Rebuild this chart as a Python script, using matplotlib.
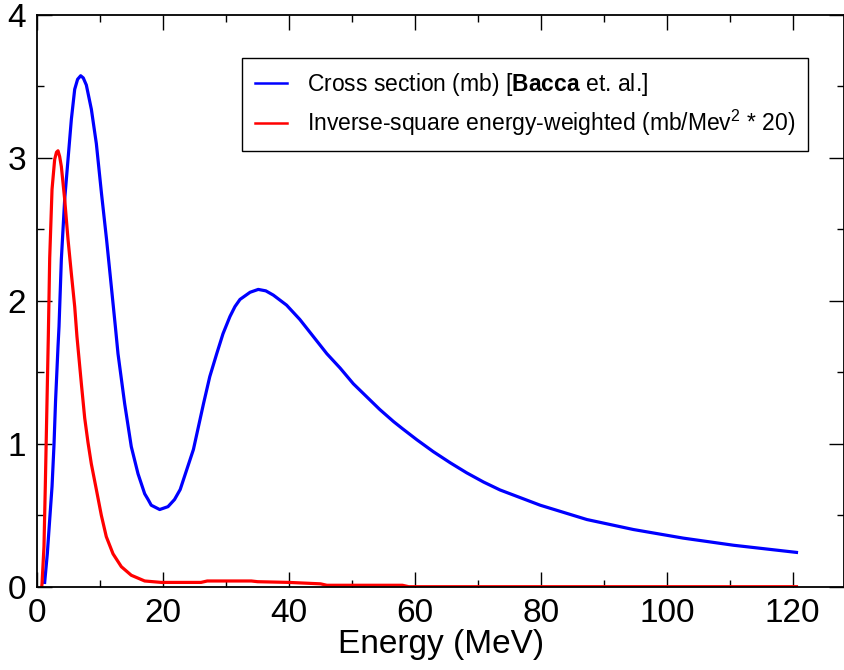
import matplotlib
matplotlib.use('Agg')

import matplotlib.pyplot as plt

plt.rcParams['font.family'] = ['Liberation Sans', 'DejaVu Sans']
plt.rcParams['mathtext.fontset'] = 'custom'
plt.rcParams['mathtext.rm'] = 'Liberation Sans'
plt.rcParams['mathtext.bf'] = 'Liberation Sans:bold'

# photoabsorption cross section (mb)
e_sigma = [1.17, 1.59, 1.97, 2.34, 2.65, 2.9, 3.29, 3.45, 3.82, 4.35, 4.88, 5.41, 5.94,
           6.4, 6.89, 7.3, 7.79, 8.59, 9.38, 10.2, 11.0, 11.76, 12.4, 12.82, 13.88,
           14.93, 16.0, 17.06, 17.6, 18.1, 19.44, 20.76, 21.8, 22.7, 23.9, 24.8, 26.4,
           27.4, 28.5, 29.5, 30.6, 31.4, 32.2, 33.8, 35.1, 36.3, 37.5, 39.6, 41.7,
           43.85, 46.0, 48.1, 50.2, 52.3, 54.4, 56.6, 58.0, 60.3, 62.9, 65.6, 68.2,
           70.9, 73.5, 79.9, 87.3, 94.7, 102.6, 110.6, 120.6]
sigma = [0.03, 0.23, 0.47, 0.70, 0.99, 1.30, 1.68, 1.82, 2.29, 2.71, 2.99, 3.27, 3.48,
         3.55, 3.575, 3.56, 3.51, 3.34, 3.10, 2.75, 2.43, 2.10, 1.82, 1.63, 1.28,
         0.98, 0.79, 0.65, 0.61, 0.57, 0.54, 0.56, 0.61, 0.68, 0.84, 0.96, 1.28,
         1.47, 1.63, 1.77, 1.89, 1.96, 2.01, 2.06, 2.08, 2.07, 2.04, 1.97, 1.87,
         1.75, 1.63, 1.53, 1.42, 1.33, 1.24, 1.155, 1.106, 1.028, 0.945, 0.867, 0.797,
         0.732, 0.677, 0.57, 0.47, 0.40, 0.34, 0.29, 0.24]

# sigma / E^2, scaled by 20
e_weighted = [0.70, 0.75, 1.06, 1.27, 1.43, 1.59, 1.75, 1.97, 2.34, 2.76, 3.05, 3.29,
              3.55, 3.82, 4.35, 4.88, 5.41, 5.94, 6.3, 7.0, 7.53, 8.05, 8.58, 9.38,
              10.17, 10.96, 12.03, 13.35, 14.93, 17.06, 19.7, 26.0, 27.0, 34.0, 35.0,
              40.0, 45.0, 46.0, 58.0, 59.0, 120.6]
weighted = [0.0, 0.02, 0.28, 0.70, 1.05, 1.40, 1.75, 2.30, 2.78, 2.99, 3.04, 3.05,
            3.01, 2.94, 2.71, 2.43, 2.19, 1.96, 1.75, 1.42, 1.18, 1.01, 0.86, 0.68,
            0.50, 0.35, 0.23, 0.14, 0.08, 0.04, 0.03, 0.03, 0.04, 0.04, 0.035,
            0.03, 0.02, 0.01, 0.01, 0.0, 0.0]

fig = plt.figure(figsize=(8.45, 6.70), dpi=100)
ax = fig.add_axes([37.3 / 845, 83.3 / 670, 806.7 / 845, 571.7 / 670])

ax.plot(e_sigma, sigma, color='#0000ff', lw=2.3,
        label=r'Cross section (mb) [$\mathbf{Bacca}$ et. al.]')
ax.plot(e_weighted, weighted, color='#ff0000', lw=2.3,
        label=r'Inverse-square energy-weighted (mb/Mev$^2$ * 20)')

ax.set_xlim(0, 128.15)
ax.set_ylim(0, 4)
ax.set_xticks(range(0, 121, 20))
ax.set_xticks(range(0, 121, 10), minor=True)
ax.set_yticks([0, 1, 2, 3, 4])
ax.set_yticks([0.5, 1.5, 2.5, 3.5], minor=True)
ax.tick_params(which='both', direction='in', top=True, right=True, width=1, labelsize=24)
ax.tick_params(which='major', length=11, pad=8)
ax.tick_params(which='minor', length=5)
for s in ax.spines.values():
    s.set_linewidth(1.3)

ax.set_xlabel('Energy (MeV)', fontsize=24, labelpad=0)

leg = ax.legend(loc='upper left', bbox_to_anchor=(0.2537, 0.9248), borderaxespad=0,
                fontsize=16.5, fancybox=False, edgecolor='black', framealpha=1,
                handlelength=1.4, handletextpad=0.9, borderpad=0.55, labelspacing=0.45)
leg.get_frame().set_linewidth(1.0)
for h in leg.get_lines():
    h.set_linewidth(1.8)

fig.savefig('out.png', dpi=100)
